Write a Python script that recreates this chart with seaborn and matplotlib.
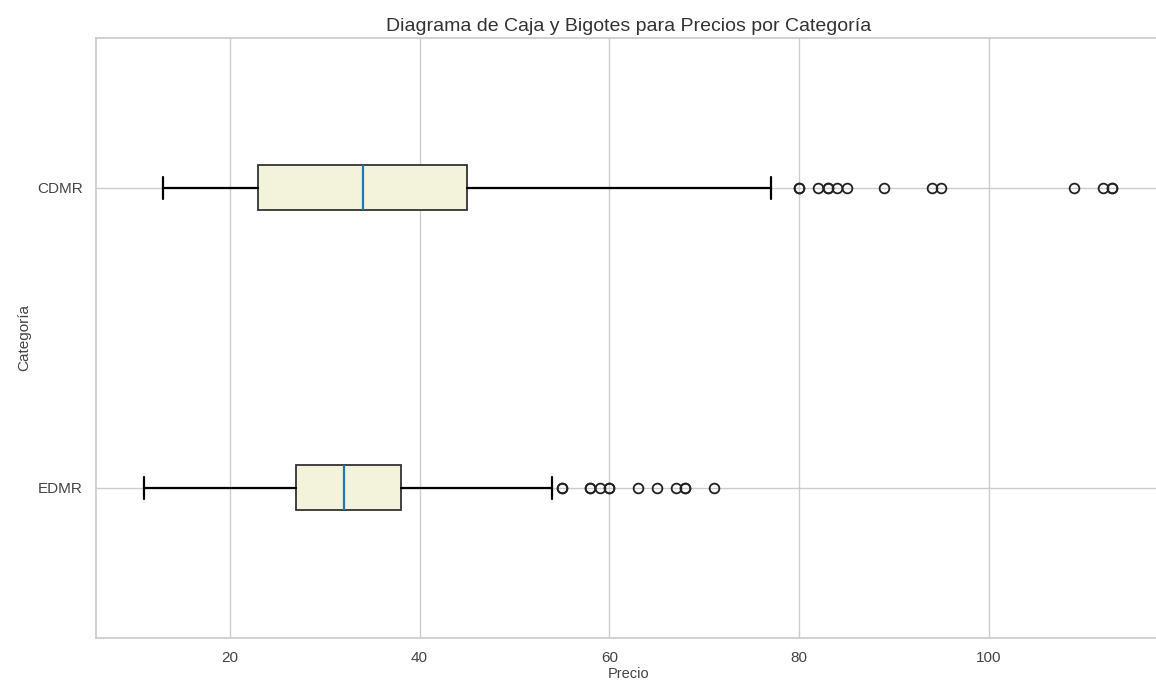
import matplotlib
matplotlib.use("Agg")
import matplotlib.pyplot as plt
import seaborn as sns

# ---------- Data ----------
categories = ["EDMR", "CDMR"]
whisker_low = [11, 13]
q1 = [27, 23]
median = [32, 34]
q3 = [38, 45]
whisker_high = [54, 77]
fliers_edmr = [55, 55, 58, 58, 59, 60, 60, 63, 65, 67, 68, 68, 71]
fliers_cdmr = [80, 80, 82, 83, 83, 84, 85, 89, 94, 95, 109, 112, 113, 113]
fliers = [fliers_edmr, fliers_cdmr]

# ---------- Style ----------
sns.set_theme(style="whitegrid")
plt.rcParams["font.family"] = ["Liberation Sans", "DejaVu Sans"]

stats = [dict(label=c, whislo=lo, q1=a, med=m, q3=b, whishi=hi, fliers=f)
         for c, lo, a, m, b, hi, f in zip(categories, whisker_low, q1, median,
                                          q3, whisker_high, fliers)]

fig = plt.figure(figsize=(11.56, 6.85), dpi=100)
ax = fig.add_axes([0.083, 0.0686, 0.921, 0.876])

ax.bxp(stats, orientation="horizontal", patch_artist=True,
       boxprops=dict(facecolor="#f3f3dc", edgecolor="#333333", linewidth=1.3),
       medianprops=dict(color="#1f77b4", linewidth=1.6),
       whiskerprops=dict(color="black", linewidth=1.6),
       capprops=dict(color="black", linewidth=1.6),
       flierprops=dict(marker="o", markerfacecolor="none",
                       markeredgecolor="#222222", markersize=7,
                       markeredgewidth=1.3))

ax.set_ylim(0.5, 2.5)
ax.set_title("Diagrama de Caja y Bigotes para Precios por Categoría",
             fontsize=14, pad=5, color="#333333")
ax.set_xlabel("Precio", fontsize=10.5, color="#444444", labelpad=1)
ax.set_ylabel("Categoría", fontsize=11, color="#444444")
ax.tick_params(axis="both", labelsize=11, colors="#444444")

fig.savefig("out.png", dpi=100)
